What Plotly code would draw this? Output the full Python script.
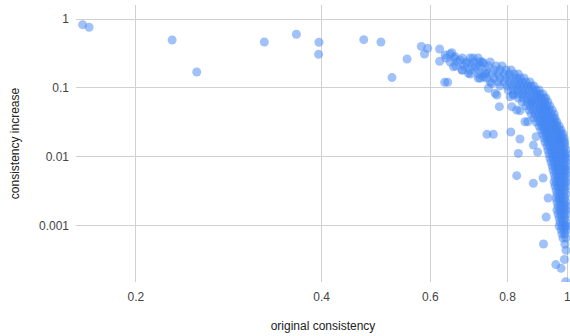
import math
import plotly.graph_objects as go

# scattered (individually read) points: original consistency, consistency increase
outlier_x = [0.164, 0.168, 0.229, 0.251, 0.323, 0.364, 0.396, 0.3955, 0.468, 0.499,
             0.520, 0.550, 0.580, 0.587, 0.594, 0.621, 0.621, 0.633, 0.640, 0.741,
             0.759, 0.776, 0.810, 0.838, 0.833, 0.828, 0.881, 0.895, 0.890, 0.863,
             0.813, 0.828, 0.838, 0.769, 0.745, 0.755, 0.7225, 0.736, 0.6915, 0.675,
             0.808, 0.854, 0.881, 0.9135, 0.931, 0.924, 0.915, 0.958, 0.977, 0.989,
             0.994, 0.818, 0.731, 0.876, 0.6875, 0.654, 0.764, 0.634, 0.646, 0.650,
             0.658, 0.670, 0.704, 0.709, 0.722, 0.731]
outlier_y = [0.827, 0.758, 0.496, 0.170, 0.464, 0.600, 0.460, 0.307, 0.501, 0.464,
             0.141, 0.263, 0.400, 0.311, 0.376, 0.367, 0.243, 0.121, 0.121, 0.0212,
             0.0212, 0.0534, 0.0229, 0.0181, 0.0112, 0.00532, 0.0148, 0.0117, 0.0196, 0.0323,
             0.0534, 0.0478, 0.0467, 0.0788, 0.0987, 0.1166, 0.138, 0.163, 0.163, 0.182,
             0.0745, 0.0323, 0.00412, 0.00492, 0.00252, 0.00134, 0.000543, 0.000273, 0.000241, 0.000323,
             0.000154, 0.0788, 0.145, 0.0630, 0.2275, 0.203, 0.0835, 0.300, 0.310, 0.324,
             0.2835, 0.254, 0.272, 0.203, 0.240, 0.230]

# dense band, read row by row: consistency increase of each row, and the original
# consistency values seen along that row
band_row_y = [0.272, 0.238, 0.208, 0.182, 0.159, 0.139, 0.122, 0.107, 0.0932, 0.0815,
              0.0714, 0.0624, 0.0546, 0.0478, 0.0418, 0.0366, 0.0320, 0.0280, 0.0245, 0.0214,
              0.0187, 0.0164, 0.01435, 0.01256, 0.0110, 0.00961, 0.00841, 0.00735, 0.00643, 0.00563,
              0.00492, 0.00431, 0.00377, 0.00330, 0.00288, 0.00252, 0.00221, 0.00193, 0.00169, 0.00148,
              0.00129, 0.00113, 0.00099, 0.00087, 0.00076, 0.00066, 0.00054, 0.00044]
band_row_x = [
    [0.636, 0.655, 0.676, 0.696, 0.717],
    [0.646, 0.665, 0.686, 0.706, 0.728, 0.750],
    [0.660, 0.681, 0.701, 0.722, 0.745, 0.767, 0.784],
    [0.676, 0.696, 0.717, 0.739, 0.761, 0.778, 0.796, 0.811],
    [0.696, 0.717, 0.739, 0.756, 0.773, 0.790, 0.805, 0.820, 0.833],
    [0.717, 0.739, 0.761, 0.778, 0.796, 0.811, 0.827, 0.839, 0.851],
    [0.750, 0.773, 0.790, 0.805, 0.820, 0.833, 0.845, 0.857, 0.870],
    [0.778, 0.799, 0.814, 0.827, 0.839, 0.851, 0.864, 0.874, 0.883],
    [0.802, 0.817, 0.830, 0.842, 0.854, 0.867, 0.880, 0.890, 0.900],
    [0.817, 0.833, 0.845, 0.857, 0.870, 0.883, 0.893, 0.903, 0.913],
    [0.833, 0.848, 0.861, 0.874, 0.887, 0.896, 0.906, 0.917, 0.923],
    [0.845, 0.861, 0.874, 0.887, 0.900, 0.910, 0.920, 0.930],
    [0.857, 0.870, 0.883, 0.896, 0.906, 0.917, 0.927, 0.937],
    [0.867, 0.880, 0.893, 0.903, 0.913, 0.923, 0.934, 0.945],
    [0.874, 0.887, 0.900, 0.910, 0.920, 0.930, 0.941, 0.952],
    [0.883, 0.896, 0.906, 0.917, 0.927, 0.937, 0.948, 0.955],
    [0.890, 0.903, 0.913, 0.923, 0.934, 0.945, 0.955, 0.962],
    [0.900, 0.910, 0.920, 0.930, 0.941, 0.952, 0.962, 0.970],
    [0.906, 0.917, 0.927, 0.937, 0.948, 0.959, 0.970, 0.977],
    [0.913, 0.923, 0.934, 0.945, 0.955, 0.966, 0.977, 0.984],
    [0.917, 0.927, 0.937, 0.948, 0.959, 0.970, 0.980, 0.988],
    [0.920, 0.930, 0.941, 0.952, 0.962, 0.973, 0.984, 0.991],
    [0.927, 0.937, 0.948, 0.959, 0.970, 0.980, 0.991],
    [0.930, 0.941, 0.952, 0.962, 0.973, 0.984, 0.995],
    [0.934, 0.945, 0.955, 0.966, 0.977, 0.988, 0.995],
    [0.937, 0.948, 0.959, 0.970, 0.980, 0.991, 0.999],
    [0.941, 0.952, 0.962, 0.973, 0.984, 0.995],
    [0.945, 0.955, 0.966, 0.977, 0.988, 0.999],
    [0.948, 0.959, 0.970, 0.980, 0.991, 0.999],
    [0.952, 0.962, 0.973, 0.984, 0.995],
    [0.955, 0.966, 0.977, 0.988, 0.999],
    [0.952, 0.962, 0.973, 0.984, 0.995],
    [0.955, 0.966, 0.977, 0.988, 0.999],
    [0.959, 0.970, 0.980, 0.991],
    [0.962, 0.973, 0.984, 0.995],
    [0.959, 0.970, 0.980, 0.991],
    [0.962, 0.973, 0.984, 0.995],
    [0.966, 0.977, 0.988, 0.999],
    [0.962, 0.973, 0.984, 0.995],
    [0.966, 0.977, 0.988, 0.999],
    [0.970, 0.980, 0.991],
    [0.973, 0.984, 0.995],
    [0.970, 0.980, 0.991, 0.999],
    [0.977, 0.988, 0.999],
    [0.980, 0.991],
    [0.984, 0.995],
    [0.991],
    [0.995],
]

x_ticks = [0.2, 0.4, 0.6, 0.8, 1]
x_tick_text = ["0.2", "0.4", "0.6", "0.8", "1"]
y_ticks = [0.001, 0.01, 0.1, 1]
y_tick_text = ["0.001", "0.01", "0.1", "1"]

xs = list(outlier_x)
ys = list(outlier_y)
for yv, row in zip(band_row_y, band_row_x):
    for xv in row:
        xs.append(xv)
        ys.append(yv)

fig = go.Figure()
fig.add_trace(go.Scatter(
    x=xs, y=ys, mode="markers",
    marker=dict(size=9, color="#4285F4", opacity=0.5, line=dict(width=0)),
    showlegend=False, hoverinfo="skip",
))

font = "Liberation Sans, Arial, sans-serif"
fig.update_layout(
    width=570, height=336,
    margin=dict(l=76, r=0, t=5, b=54, autoexpand=False),
    paper_bgcolor="white", plot_bgcolor="white",
    font=dict(family=font, size=12, color="#444444"),
)
fig.update_xaxes(
    type="log", range=[math.log10(0.16), math.log10(1.01)],
    tickvals=x_ticks, ticktext=x_tick_text,
    showgrid=True, gridcolor="#d0d0d0", gridwidth=1,
    zeroline=False, showline=False, ticks="", automargin=False,
    ticklabelstandoff=6, ticklabeloverflow="allow",
    title=dict(text="original consistency", font=dict(size=12, color="#222222"), standoff=18),
)
fig.update_yaxes(
    type="log", range=[-3.817, 0.2032],
    tickvals=y_ticks, ticktext=y_tick_text,
    showgrid=True, gridcolor="#d0d0d0", gridwidth=1,
    zeroline=False, showline=False, ticks="", automargin=False,
    ticklabelstandoff=6, ticklabeloverflow="allow",
    title=dict(text="consistency increase", font=dict(size=12, color="#222222"), standoff=16),
)

fig.write_html("out.html", config={"displayModeBar": False},
               post_script="document.body.style.margin='0';")
